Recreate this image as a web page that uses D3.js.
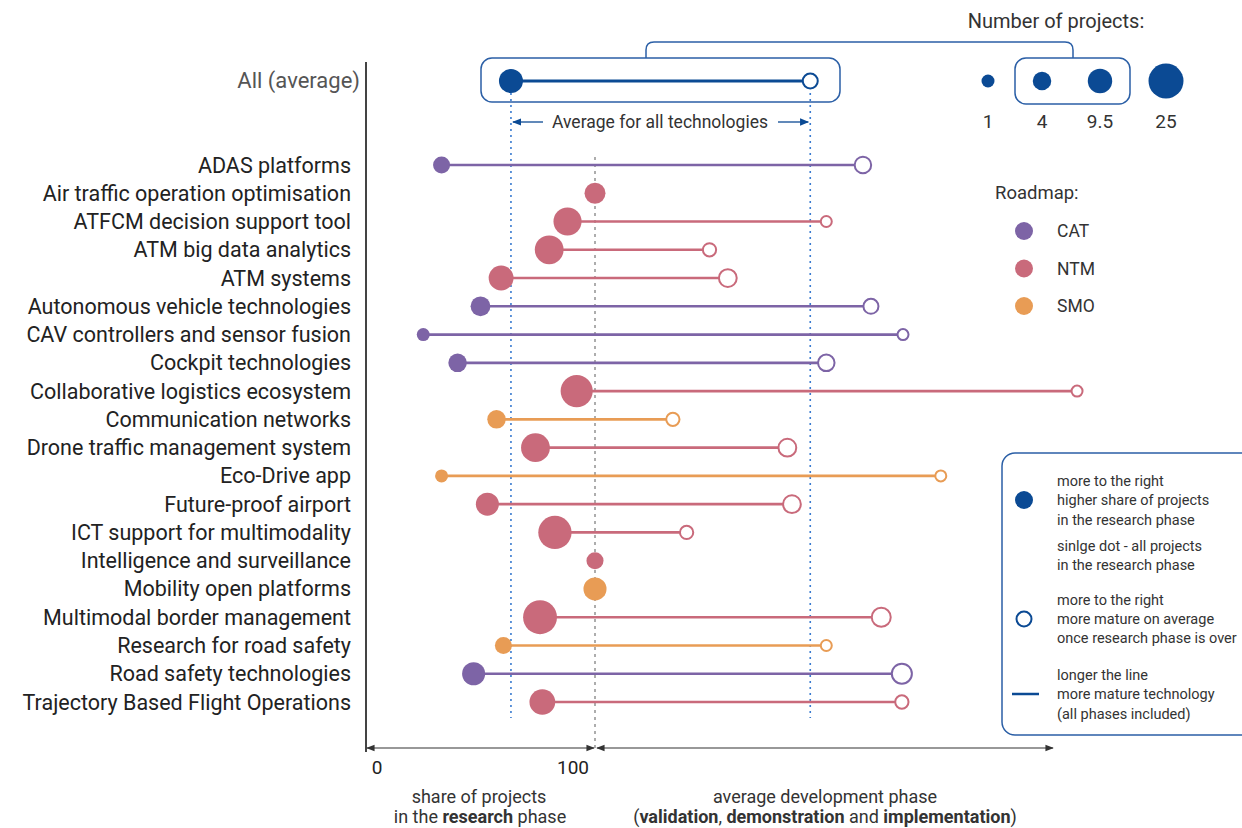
<!DOCTYPE html>
<html><head><meta charset="utf-8">
<script src="https://cdn.jsdelivr.net/npm/d3@7/dist/d3.min.js"></script>
<style>body{margin:0;background:#fff}svg{display:block;font-family:Roboto,"Open Sans",sans-serif}</style>
</head><body><svg id="c" width="1242" height="828"></svg>
<script>
const technologies = ["ADAS platforms","Air traffic operation optimisation","ATFCM decision support tool","ATM big data analytics","ATM systems","Autonomous vehicle technologies","CAV controllers and sensor fusion","Cockpit technologies","Collaborative logistics ecosystem","Communication networks","Drone traffic management system","Eco-Drive app","Future-proof airport","ICT support for multimodality","Intelligence and surveillance","Mobility open platforms","Multimodal border management","Research for road safety","Road safety technologies","Trajectory Based Flight Operations"];
const roadmap = ["CAT","NTM","NTM","NTM","NTM","CAT","CAT","CAT","NTM","SMO","NTM","SMO","NTM","NTM","NTM","SMO","NTM","SMO","CAT","NTM"];
// share of projects in research phase (%)
const researchShare = [33,100,88,80,59,50,25,40,92,57,74,33,53,82.5,100,100,76,60,47,77];
// average development phase position (same axis, >100 = later phases), null = single dot
const devPhase = [217,null,201,150,158,220.5,234.5,201,310.5,134,184,251,186,140,null,null,225,201,234,234];
// number of projects (research / later phases)
const nResearch = [3,6,14,15,10,5,1,4,20,4,15,1,8,22,3,8,23,3,8,11];
const nLater = [4,null,1,2,5,3,1,4,1,2,5,1,5,2,null,null,6,1,7,2];
const avgShare = 63.3, avgDev = 194;
const sizeLegend = [1,4,9.5,25];
const roadmaps = ["CAT","NTM","SMO"];
const roadmapColors = ["#7d64a6","#c96a7b","#e89c55"];

const svg = d3.select("#c");
const blue = "#0b4a94", boxBlue = "#2b5fa6";
const x = d3.scaleLinear().domain([0,300]).range([366,1053]);
const y = d3.scalePoint().domain(technologies).range([165,702]);
const r = d3.scaleSqrt().domain([1,25]).range([6.5,17.5]);
const color = d3.scaleOrdinal().domain(roadmaps).range(roadmapColors);

const data = technologies.map((t,i)=>({t,rm:roadmap[i],s:researchShare[i],d:devPhase[i],n:nResearch[i],m:nLater[i]}));

// category labels
svg.append("g").selectAll("text").data(technologies).join("text")
  .attr("x",351).attr("y",d=>y(d)).attr("dy","0.35em").attr("text-anchor","end")
  .attr("font-size",21.5).attr("fill","#222").text(d=>d);
svg.append("text").attr("x",360).attr("y",80).attr("dy","0.35em").attr("text-anchor","end")
  .attr("font-size",22).attr("fill","#555").text("All (average)");

// axis line
svg.append("line").attr("x1",366).attr("x2",366).attr("y1",62).attr("y2",752).attr("stroke","#444").attr("stroke-width",2);

// reference lines
svg.append("line").attr("x1",x(100)).attr("x2",x(100)).attr("y1",157).attr("y2",752)
  .attr("stroke","#777").attr("stroke-width",1.2).attr("stroke-dasharray","3,4");
[avgShare,avgDev].forEach(v=>svg.append("line").attr("x1",x(v)).attr("x2",x(v)).attr("y1",93).attr("y2",718)
  .attr("stroke","#3a7bd0").attr("stroke-width",1.6).attr("stroke-dasharray","2,4"));

// rows
const g = svg.append("g");
g.selectAll("line.l").data(data.filter(d=>d.d!=null)).join("line")
  .attr("x1",d=>x(d.s)).attr("x2",d=>x(d.d)).attr("y1",d=>y(d.t)).attr("y2",d=>y(d.t))
  .attr("stroke",d=>color(d.rm)).attr("stroke-width",2.6);
g.selectAll("circle.o").data(data.filter(d=>d.d!=null)).join("circle")
  .attr("cx",d=>x(d.d)).attr("cy",d=>y(d.t)).attr("r",d=>r(d.m)-1)
  .attr("fill","#fff").attr("stroke",d=>color(d.rm)).attr("stroke-width",2);
g.selectAll("circle.f").data(data).join("circle")
  .attr("cx",d=>x(d.s)).attr("cy",d=>y(d.t)).attr("r",d=>r(d.n)).attr("fill",d=>color(d.rm));

// average row
svg.append("rect").attr("x",481).attr("y",58).attr("width",359).attr("height",44).attr("rx",11)
  .attr("fill","none").attr("stroke",boxBlue).attr("stroke-width",1.5);
svg.append("line").attr("x1",x(avgShare)).attr("x2",x(avgDev)).attr("y1",81).attr("y2",81).attr("stroke",blue).attr("stroke-width",3);
svg.append("circle").attr("cx",x(avgShare)).attr("cy",81).attr("r",12).attr("fill",blue);
svg.append("circle").attr("cx",x(avgDev)).attr("cy",81).attr("r",7.5).attr("fill","#fff").attr("stroke",blue).attr("stroke-width",2);

// bracket connector
svg.append("path").attr("d","M646,58 V50 Q646,42 654,42 H1065 Q1073,42 1073,50 V58")
  .attr("fill","none").attr("stroke",boxBlue).attr("stroke-width",1.5);
svg.append("rect").attr("x",1015).attr("y",58).attr("width",115).attr("height",46).attr("rx",11)
  .attr("fill","none").attr("stroke",boxBlue).attr("stroke-width",1.5);

// size legend
svg.append("text").attr("x",1056).attr("y",21).attr("dy","0.35em").attr("text-anchor","middle").attr("font-size",20).attr("fill","#333").text("Number of projects:");
const sx = [988,1042,1100,1166];
svg.append("g").selectAll("circle").data(sizeLegend).join("circle")
  .attr("cx",(d,i)=>sx[i]).attr("cy",81).attr("r",d=>r(d)).attr("fill",blue);
svg.append("g").selectAll("text").data(sizeLegend).join("text")
  .attr("x",(d,i)=>sx[i]).attr("y",121).attr("dy","0.35em").attr("text-anchor","middle").attr("font-size",19).attr("fill","#333").text(d=>d);

// average annotation
const defs = svg.append("defs");
defs.append("marker").attr("id","ab").attr("viewBox","0 0 10 10").attr("refX",9).attr("refY",5)
  .attr("markerWidth",7).attr("markerHeight",7).attr("orient","auto-start-reverse")
  .append("path").attr("d","M0,1 L10,5 L0,9 z").attr("fill",blue);
defs.append("marker").attr("id","ag").attr("viewBox","0 0 10 10").attr("refX",9).attr("refY",5)
  .attr("markerWidth",7).attr("markerHeight",7).attr("orient","auto-start-reverse")
  .append("path").attr("d","M0,1 L10,5 L0,9 z").attr("fill","#333");
svg.append("text").attr("x",660).attr("y",122).attr("dy","0.35em").attr("text-anchor","middle").attr("font-size",17.5).attr("fill","#333").text("Average for all technologies");
svg.append("line").attr("x1",543).attr("x2",x(avgShare)+2).attr("y1",122).attr("y2",122).attr("stroke",blue).attr("stroke-width",1.3).attr("marker-end","url(#ab)");
svg.append("line").attr("x1",778).attr("x2",x(avgDev)-2).attr("y1",122).attr("y2",122).attr("stroke",blue).attr("stroke-width",1.3).attr("marker-end","url(#ab)");

// roadmap legend
svg.append("text").attr("x",995).attr("y",193).attr("dy","0.35em").attr("font-size",18.5).attr("fill","#333").text("Roadmap:");
const lg = svg.append("g").selectAll("g").data(roadmaps).join("g").attr("transform",(d,i)=>`translate(1024,${231+i*37.5})`);
lg.append("circle").attr("r",9).attr("fill",d=>color(d));
lg.append("text").attr("x",33).attr("dy","0.35em").attr("font-size",17.5).attr("fill","#333").text(d=>d);

// explanation box
svg.append("rect").attr("x",1002).attr("y",453).attr("width",260).attr("height",282).attr("rx",13)
  .attr("fill","none").attr("stroke",boxBlue).attr("stroke-width",1.5);
svg.append("circle").attr("cx",1024).attr("cy",500).attr("r",9).attr("fill",blue);
svg.append("circle").attr("cx",1024).attr("cy",619).attr("r",7.5).attr("fill","#fff").attr("stroke",blue).attr("stroke-width",2);
svg.append("line").attr("x1",1012).attr("x2",1039).attr("y1",694).attr("y2",694).attr("stroke",blue).attr("stroke-width",2.5);
const expl = [["more to the right",481],["higher share of projects",500],["in the research phase",520],["sinlge dot - all projects",546],["in the research phase",565],["more to the right",600],["more mature on average",619],["once research phase is over",638],["longer the line",675],["more mature technology",694],["(all phases included)",714]];
svg.append("g").selectAll("text").data(expl).join("text").attr("x",1057).attr("y",d=>d[1]).attr("dy","0.35em")
  .attr("font-size",14.5).attr("fill","#333").text(d=>d[0]);

// bottom axis
svg.append("line").attr("x1",x(0)+1).attr("x2",x(100)-1).attr("y1",748).attr("y2",748).attr("stroke","#333").attr("stroke-width",1.2)
  .attr("marker-start","url(#ag)").attr("marker-end","url(#ag)");
svg.append("line").attr("x1",x(100)+2).attr("x2",x(300)).attr("y1",748).attr("y2",748).attr("stroke","#333").attr("stroke-width",1.2)
  .attr("marker-start","url(#ag)").attr("marker-end","url(#ag)");
const tickLabels = [["0",377,"middle"],["100",589,"end"]];
svg.append("g").selectAll("text").data(tickLabels).join("text").attr("x",d=>d[1]).attr("y",767).attr("dy","0.35em")
  .attr("text-anchor",d=>d[2]).attr("font-size",19).attr("fill","#222").text(d=>d[0]);

function rich(xc,yc,parts){
  const t = svg.append("text").attr("x",xc).attr("y",yc).attr("dy","0.35em").attr("text-anchor","middle").attr("font-size",18).attr("fill","#333");
  parts.forEach(p=>t.append("tspan").attr("font-weight",p[1]?"bold":null).text(p[0]));
}
rich(479,797,[["share of projects",0]]);
rich(480,817,[["in the ",0],["research",1],[" phase",0]]);
rich(825,797,[["average development phase",0]]);
rich(825,817,[["(",0],["validation",1],[", ",0],["demonstration",1],[" and ",0],["implementation",1],[")",0]]);
</script></body></html>
